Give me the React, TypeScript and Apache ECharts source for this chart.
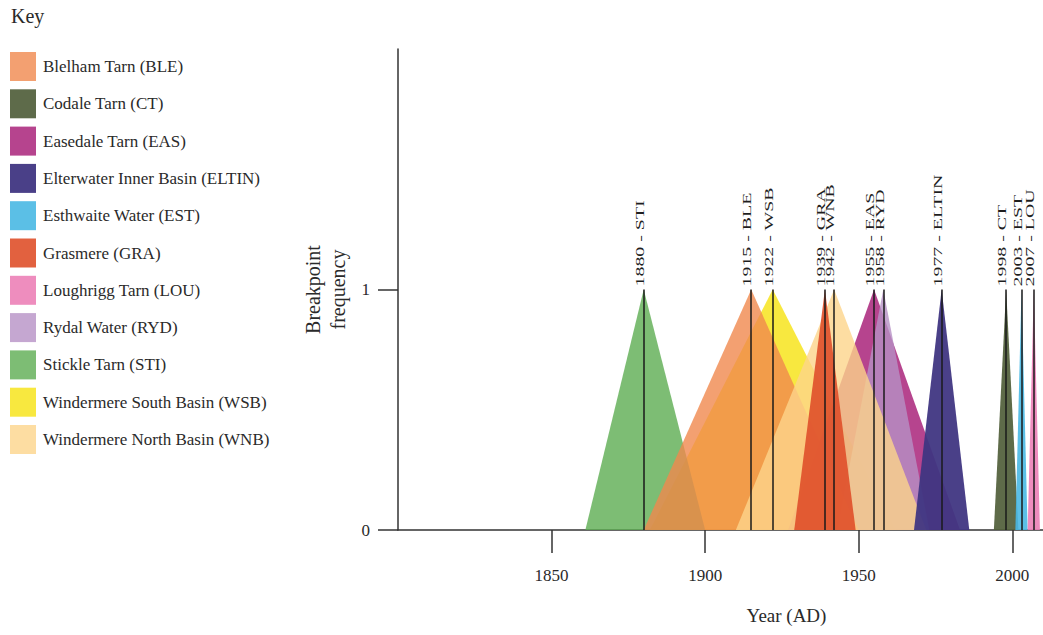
import React, { useEffect, useRef } from 'react';
import * as echarts from 'echarts';

const lakeNames = [
  'Blelham Tarn (BLE)',
  'Codale Tarn (CT)',
  'Easedale Tarn (EAS)',
  'Elterwater Inner Basin (ELTIN)',
  'Esthwaite Water (EST)',
  'Grasmere (GRA)',
  'Loughrigg Tarn (LOU)',
  'Rydal Water (RYD)',
  'Stickle Tarn (STI)',
  'Windermere South Basin (WSB)',
  'Windermere North Basin (WNB)',
];
const lakeCodes = ['BLE', 'CT', 'EAS', 'ELTIN', 'EST', 'GRA', 'LOU', 'RYD', 'STI', 'WSB', 'WNB'];
const peakYears = [1915, 1998, 1955, 1977, 2003, 1939, 2007, 1958, 1880, 1922, 1942];
const startYears = [1880, 1994, 1927, 1968, 2001, 1929, 2005, 1943, 1861, 1882, 1910];
const endYears = [1950, 2002, 1983, 1986, 2005, 1949, 2009, 1973, 1900, 1962, 1972];
const peakFrequency = [1, 1, 1, 1, 1, 1, 1, 1, 1, 1, 1];
const keyColors = [
  '#F3A071', '#5E6B4A', '#B6448E', '#4A4088', '#5BBFE6', '#E2613F',
  '#EE8DBE', '#C5A7D1', '#7DBD74', '#F8E83F', '#FDDDA2',
];
const fillAlpha = [0.8, 0.92, 0.8, 0.95, 0.9, 0.9, 0.9, 0.8, 0.8, 0.8, 0.8];
const drawOrder = ['WSB', 'STI', 'EAS', 'RYD', 'BLE', 'WNB', 'GRA', 'ELTIN', 'CT', 'EST', 'LOU'];
const xTickValues = [1850, 1900, 1950, 2000];
const yTickValues = [0, 1];

function fillFor(hex: string, a: number): string {
  const n = parseInt(hex.slice(1), 16);
  const c = [(n >> 16) & 255, (n >> 8) & 255, n & 255].map((v) =>
    Math.max(0, Math.min(255, Math.round((v - (1 - a) * 255) / a)))
  );
  return `rgba(${c[0]},${c[1]},${c[2]},${a})`;
}

export default function App() {
  const ref = useRef<HTMLDivElement>(null);
  useEffect(() => {
    if (!ref.current) return;
    const chart = echarts.init(ref.current, null, { renderer: 'svg' });
    const serif = "'Liberation Serif', 'Times New Roman', serif";

    const areaSeries = drawOrder.map((code) => {
      const i = lakeCodes.indexOf(code);
      return {
        name: lakeNames[i],
        type: 'line',
        symbol: 'none',
        silent: true,
        data: [
          [startYears[i], 0],
          [peakYears[i], peakFrequency[i]],
          [endYears[i], 0],
        ],
        lineStyle: { width: 0 },
        itemStyle: { color: keyColors[i] },
        areaStyle: { color: fillFor(keyColors[i], fillAlpha[i]), opacity: 1 },
        z: 2,
      };
    });

    const peakLineSeries = {
      type: 'scatter',
      symbolSize: 0,
      silent: true,
      z: 5,
      itemStyle: { color: 'rgba(0,0,0,0)' },
      data: lakeCodes.map((c, i) => [peakYears[i], peakFrequency[i]]),
      markLine: {
        silent: true,
        symbol: 'none',
        animation: false,
        label: { show: false },
        lineStyle: { color: '#1a1a1a', width: 1.5, type: 'solid' },
        data: lakeCodes.map((c, i) => [
          { coord: [peakYears[i], 0] },
          { coord: [peakYears[i], peakFrequency[i]] },
        ]),
      },
    };

    const keyTitle = {
      type: 'text',
      id: 'keyTitle',
      left: 11,
      top: 6,
      style: { text: 'Key', font: `20px ${serif}`, fill: '#2a2a2a' },
    };

    chart.setOption({
      animation: false,
      backgroundColor: '#ffffff',
      graphic: [keyTitle],
      legend: {
        orient: 'vertical',
        left: 10,
        top: 52,
        padding: 0,
        icon: 'rect',
        itemWidth: 26,
        itemHeight: 29,
        itemGap: 8.3,
        selectedMode: false,
        textStyle: { fontFamily: serif, fontSize: 17, color: '#2a2a2a', padding: [0, 0, 0, 2] },
        data: lakeNames.map((n, i) => ({ name: n, itemStyle: { color: keyColors[i], opacity: 1 } })),
      },
      grid: { left: 398, top: 49, bottom: 105, right: -2, containLabel: false },
      xAxis: {
        type: 'value',
        min: 1800,
        max: 2010,
        interval: 50,
        name: 'Year (AD)',
        nameLocation: 'middle',
        nameGap: 76,
        nameTextStyle: { fontFamily: serif, fontSize: 19, color: '#2a2a2a', padding: [0, 0, 0, 132] },
        axisLine: { show: true, onZero: false, lineStyle: { color: '#333', width: 1.5 } },
        axisTick: { show: true, inside: false, length: 23, customValues: xTickValues, lineStyle: { color: '#333', width: 1.5 } },
        axisLabel: {
          customValues: xTickValues,
          margin: 37,
          fontFamily: serif,
          fontSize: 17,
          color: '#2a2a2a',
          formatter: (v: number) => (xTickValues.includes(v) ? String(v) : ''),
        },
        splitLine: { show: false },
      },
      yAxis: {
        type: 'value',
        min: 0,
        max: 2,
        interval: 1,
        name: 'Breakpoint\nfrequency',
        nameLocation: 'middle',
        nameGap: 46,
        nameTextStyle: { fontFamily: serif, fontSize: 20, lineHeight: 25, color: '#2a2a2a' },
        axisLine: { show: true, lineStyle: { color: '#333', width: 1.5 } },
        axisTick: { show: true, inside: false, length: 20, customValues: yTickValues, lineStyle: { color: '#333', width: 1.5 } },
        axisLabel: {
          customValues: yTickValues,
          margin: 28,
          fontFamily: serif,
          fontSize: 17,
          color: '#2a2a2a',
          formatter: (v: number) => (yTickValues.includes(v) ? String(v) : ''),
        },
        splitLine: { show: false },
      },
      series: [...areaSeries, peakLineSeries],
    });

    const peakLabels = lakeCodes.map((c, i) => {
      const p = chart.convertToPixel({ gridIndex: 0 }, [peakYears[i], peakFrequency[i]]) as number[];
      return {
        type: 'text',
        id: 'peakLabel' + i,
        x: p[0] - 4,
        y: p[1] - 3,
        rotation: Math.PI / 2,
        scaleX: 1.53,
        scaleY: 1,
        z: 10,
        style: {
          text: `${peakYears[i]} - ${c}`,
          font: `13px ${serif}`,
          fill: '#1e1e1e',
          align: 'left',
          verticalAlign: 'middle',
        },
      };
    });
    chart.setOption({ graphic: [keyTitle, ...peakLabels] });

    return () => chart.dispose();
  }, []);
  return <div ref={ref} style={{ position: 'absolute', left: 0, top: 0, width: 1043, height: 635 }} />;
}
